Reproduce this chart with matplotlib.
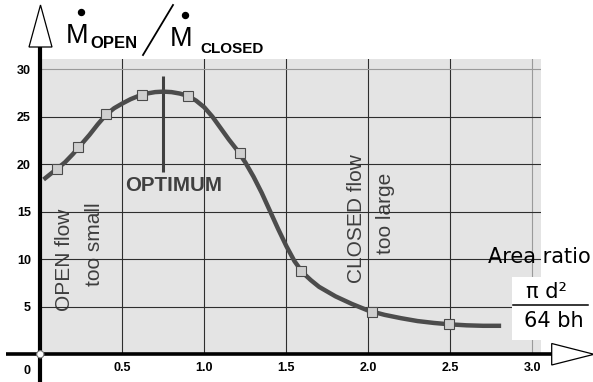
import matplotlib
matplotlib.use("Agg")
import matplotlib.pyplot as plt
from matplotlib.patches import Polygon, Rectangle, Circle

SANS = 'Liberation Sans'

# ----------- data -----------
curve_x = [0.02, 0.10, 0.15, 0.20, 0.25, 0.30, 0.35, 0.40, 0.45, 0.50, 0.55, 0.60,
           0.65, 0.70, 0.75, 0.80, 0.85, 0.90, 0.95, 1.00, 1.05, 1.10, 1.15, 1.20,
           1.25, 1.30, 1.35, 1.40, 1.45, 1.50, 1.55, 1.60, 1.65, 1.70, 1.80, 1.90,
           2.00, 2.10, 2.20, 2.30, 2.40, 2.50, 2.60, 2.70, 2.81]
curve_y = [18.4, 19.5, 20.2, 21.1, 22.1, 23.1, 24.2, 25.2, 25.9, 26.4, 26.85, 27.2,
           27.45, 27.6, 27.65, 27.6, 27.45, 27.2, 26.7, 26.0, 25.0, 23.8, 22.6, 21.5,
           20.2, 18.7, 17.0, 15.1, 13.2, 11.4, 9.8, 8.6, 7.8, 7.1, 6.1, 5.3,
           4.6, 4.15, 3.8, 3.5, 3.3, 3.15, 3.05, 3.0, 3.0]

marker_x = [0.10, 0.23, 0.40, 0.62, 0.90, 1.22, 1.59, 2.02, 2.49]
marker_y = [19.5, 21.8, 25.3, 27.3, 27.2, 21.2, 8.8, 4.5, 3.2]

optimum_x = 0.75
optimum_span = [19.2, 29.3]

x_ticks = [0.5, 1.0, 1.5, 2.0, 2.5, 3.0]
x_labels = ['0.5', '1.0', '1.5', '2.0', '2.5', '3.0']
y_ticks = [5, 10, 15, 20, 25, 30]
y_labels = ['5', '10', '15', '20', '25', '30']

W, H = 593, 382
fig = plt.figure(figsize=(W / 100, H / 100), dpi=100)
fig.patch.set_facecolor('white')

# plot area in pixel terms: x 40.3..541, y 59.3..354.3
ax = fig.add_axes([40.3 / W, (H - 354.3) / H, (541 - 40.3) / W, (354.3 - 59.3) / H])
ax.set_xlim(0, (541 - 40.3) / 164)
ax.set_ylim(0, (354.3 - 59.3) / 9.5)
ax.set_facecolor('#e4e4e4')
for s in ax.spines.values():
    s.set_visible(False)

ax.set_xticks(x_ticks, x_labels)
ax.set_yticks(y_ticks, y_labels)
ax.tick_params(axis='x', length=0, pad=5.5)
ax.tick_params(axis='y', length=0, pad=6.7)
for lab in ax.get_xticklabels() + ax.get_yticklabels():
    lab.set_fontfamily(SANS)
    lab.set_fontweight('bold')
    lab.set_fontsize(9)
ax.grid(True, color='#2e2e2e', linewidth=0.8, zorder=2)
ax.set_axisbelow(False)
ax.get_xgridlines()[-1].set_color('#9a9a9a')
ax.get_ygridlines()[-1].set_color('#9a9a9a')

# annotations inside the plot (below grid)
txt_kw = dict(family=SANS, fontsize=15, color='#3e3e3e', rotation=90,
              rotation_mode='anchor', ha='center', va='baseline', zorder=1)
px = lambda x: (x - 40.3) / 164
py = lambda y: (354.3 - y) / 9.5
ax.text(px(69.5), py(260), 'OPEN flow', **txt_kw)
ax.text(px(99.5), py(244), 'too small', **txt_kw)
ax.text(px(361.5), py(218.5), 'CLOSED flow', **txt_kw)
ax.text(px(391), py(213), 'too large', **txt_kw)
ax.text(px(174), py(185.5), 'OPTIMUM', family=SANS, fontweight='bold', fontsize=14.8,
        color='#404040', ha='center', va='center', zorder=1)

ax.plot([optimum_x, optimum_x], optimum_span, color='#404040', lw=2.2, zorder=3,
        solid_capstyle='butt')
ax.plot(curve_x, curve_y, color='#4c4c4c', lw=3.2, zorder=4, solid_capstyle='butt',
        solid_joinstyle='round')
ax.plot(marker_x, marker_y, linestyle='none', marker='s', markersize=7,
        markerfacecolor='#cfcfcf', markeredgecolor='#4a4a4a', markeredgewidth=0.8,
        zorder=5)

# ----------- overlay in pixel coordinates -----------
ov = fig.add_axes([0, 0, 1, 1], zorder=3)
ov.set_xlim(0, W)
ov.set_ylim(H, 0)
ov.axis('off')

# axes arrows
ov.plot([40.3, 40.3], [H, 47], color='black', lw=3.0, solid_capstyle='butt')
ov.add_patch(Polygon([[29, 47], [52, 47], [40.5, 5]], closed=True,
                     facecolor='white', edgecolor='black', lw=0.9))
ov.plot([6, 552], [354.3, 354.3], color='black', lw=2.6, solid_capstyle='butt')
ov.add_patch(Polygon([[551.7, 343.5], [551.7, 365], [594, 354.3]], closed=True,
                     facecolor='white', edgecolor='black', lw=0.9))
ov.add_patch(Circle((40.3, 354.3), 3.6, facecolor='white', edgecolor='#777777', lw=0.8,
                    zorder=5))
ov.text(27, 371, '0', family=SANS, fontweight='bold', fontsize=9, ha='center', va='center')

# title  M_OPEN / M_CLOSED
ov.text(66, 43, 'M', family=SANS, fontsize=19.5, ha='left', va='baseline')
ov.plot([80.5], [11.5], marker='o', markersize=4.3, color='black')
ov.text(90, 48, 'OPEN', family=SANS, fontweight='bold', fontsize=12, ha='left',
        va='baseline')
ov.plot([143, 173], [55, 5], color='black', lw=1.3)
ov.text(170, 46, 'M', family=SANS, fontsize=19.5, ha='left', va='baseline')
ov.plot([185], [15], marker='o', markersize=4.3, color='black')
ov.text(200, 53, 'CLOSED', family=SANS, fontweight='bold', fontsize=11, ha='left',
        va='baseline')

# area ratio label
ov.text(488, 263, 'Area ratio', family='DejaVu Sans', fontsize=15, ha='left',
        va='baseline', zorder=4)
ov.add_patch(Rectangle((512, 277), 82, 63, facecolor='white', edgecolor='none', zorder=3))
ov.text(546, 298, 'π d²', family='DejaVu Sans', fontsize=15, ha='center',
        va='baseline', zorder=4)
ov.plot([513, 588], [305, 305], color='black', lw=1.1, zorder=4)
ov.text(554, 327, '64 bh', family='DejaVu Sans', fontsize=15, ha='center',
        va='baseline', zorder=4)

fig.savefig('out.png', dpi=100)
